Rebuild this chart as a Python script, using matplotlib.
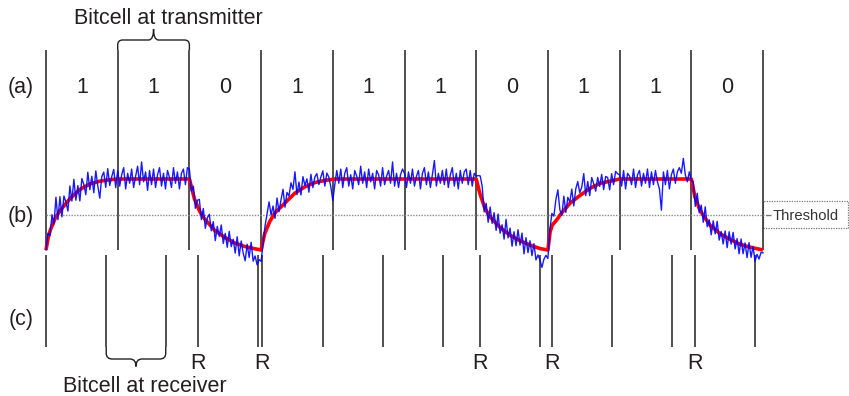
import numpy as np
import matplotlib
matplotlib.use("Agg")
import matplotlib.pyplot as plt
from matplotlib.path import Path
from matplotlib.patches import PathPatch, Rectangle

plt.rcParams["font.family"] = ["Liberation Sans", "DejaVu Sans"]

# ---- data -------------------------------------------------------------
bits = [1, 1, 0, 1, 1, 1, 0, 1, 1, 0]
tx_edges = list(range(len(bits) + 1))

# receiver clock ticks (in transmitter bitcells) and which ones are resets
rx_ticks = [0.0, 0.84, 1.67, 2.12, 2.96, 3.01, 3.86, 4.70, 5.54,
            6.05, 6.89, 7.06, 7.89, 8.73, 9.05, 9.89]
rx_reset = [False, False, False, True, False, True, False, False, False,
            True, False, True, False, False, True, False]

threshold = 0.49

# ideal (filtered) line voltage
red_t = [0.00, 0.03, 0.06, 0.13, 0.20, 0.34, 0.47, 0.61, 0.75, 0.89, 1.00,
         2.00, 2.07, 2.14, 2.21, 2.35, 2.49, 2.63, 2.77, 2.90, 3.00,
         3.05, 3.12, 3.19, 3.33, 3.47, 3.61, 3.75, 3.89, 4.03,
         6.00, 6.05, 6.12, 6.19, 6.33, 6.47, 6.61, 6.75, 6.89, 7.00,
         7.03, 7.06, 7.12, 7.19, 7.31, 7.45, 7.59, 7.73, 7.87, 8.00,
         9.00, 9.05, 9.12, 9.26, 9.40, 9.54, 9.68, 9.82, 10.00]
red_v = [0.00, 0.17, 0.28, 0.45, 0.56, 0.73, 0.85, 0.93, 0.97, 0.99, 1.00,
         1.00, 0.72, 0.55, 0.44, 0.28, 0.18, 0.10, 0.05, 0.02, 0.00,
         0.23, 0.40, 0.52, 0.66, 0.80, 0.89, 0.95, 0.98, 1.00,
         1.00, 0.80, 0.59, 0.47, 0.32, 0.21, 0.13, 0.07, 0.02, 0.00,
         0.25, 0.35, 0.42, 0.52, 0.66, 0.77, 0.87, 0.94, 0.97, 1.00,
         1.00, 0.75, 0.56, 0.35, 0.23, 0.15, 0.08, 0.04, 0.00]

# received (noisy) signal: deviation from the ideal curve, hundredths,
# sampled 36 times per bitcell
noise_per_cell = 36
blue_noise = [
    0, 8, -6, 16, -4, 28, -8, 20, -12, 14, 2, -14, 18, -6, 22, -10, 8, -16,
    14, 4, -12, 18, -8, 10, -14, 16, -6, -24, 6, 12, -10, 16, -8, 4, 14, -12,
    12, -10, 6, 16, -14, 8, -6, 14, -12, 4, 18, -8, 24, -4, 10, -16, 12, -8,
    14, -12, 6, 16, -10, 8, -14, 12, 2, -12, 16, -6, 10, -14, 8, 14, -8, 16,
    14, -6, 12, -10, 8, 16, -8, 12, -12, 6, 14, -6, 10, -14, 8, -4, 14, -10,
    6, -12, 12, -8, 4, -14, 10, -16, 6, -10, -20, 4, -14, 8, -18, -10, -22, -14,
    -16, -4, 10, 20, 30, 6, 14, -8, 18, -4, 10, 22, -6, 12, 4, 20, 8, 30,
    -4, 12, -8, 16, 2, 10, -10, 14, -6, 8, 12, -4, 6, 14, -8, 10, 4, -10,
    -30, -8, 12, -6, 14, -12, 8, 16, -10, 6, -14, 12, 4, -8, 18, -6, 10, -12,
    14, -4, 8, -14, 12, 6, -10, 16, -8, 4, 12, -6, 24, -10, 8, -12, 6, 14,
    8, -12, 10, -6, 14, -10, 4, 12, -14, 8, 16, -8, 10, -12, 6, 26, -10, 8,
    -6, 12, -8, 14, -12, 6, 16, -10, 8, -14, 12, -6, 10, 14, -8, 12, -10, 8,
    4, 16, 26, 20, -8, 10, -12, 14, -6, 12, -10, 16, -8, 6, -12, 18, -6, 10,
    -14, 8, -10, 14, -6, 12, -16, 8, -12, 6, -14, 4, -18, -10, -16, -26, -14, -8,
    -12, 6, 18, 10, 30, 40, 8, -4, 20, -6, 12, 2, 18, -8, 14, 22, 4, 10,
    27, -6, 12, -10, 14, 4, -8, 10, -4, 12, -10, 8, 6, -12, 10, -6, 12, 8,
    6, -10, 12, -14, 8, 4, -8, 14, -12, 6, 12, -10, 8, -6, 14, -12, 10, -8,
    12, -4, -14, -44, 10, -8, 12, -14, 6, 14, -6, 10, 16, 8, 29, 6, -4, 10,
    -2, 10, -12, 14, -6, 10, -10, 16, -8, 6, -12, 10, -6, 14, -10, 4, -12, 8,
    -14, 10, -6, 12, -10, 6, -14, 8, -12, 4, -16, 6, -14, 2, -18, -8, -14, -4,
    -4,
]

# ---- layout -----------------------------------------------------------
W, H = 849, 396
X0, CELL = 46.0, 71.7      # left edge and width of one bitcell (px)
BASE, SWING = 250.0, 71.0  # low level and signal swing (px)


def tx(px):
    return (px - X0) / CELL


def ty(py):
    return (BASE - py) / SWING


INK = "#231f20"
FS = 15.5

fig = plt.figure(figsize=(W / 100, H / 100), dpi=100)
ax = fig.add_axes([0, 0, 1, 1])
ax.set_xlim(tx(0), tx(W))
ax.set_ylim(ty(H), ty(0))
ax.axis("off")


def brace(x0, x1, y_base, h1, h2, r, up=True):
    """Curly brace between x0 and x1; heights in px, r = corner radius in px."""
    d = 1 if up else -1
    yb = y_base
    y1 = y_base + d * h1 / SWING
    y2 = y_base + d * h2 / SWING
    rx = r / CELL
    ry = r / SWING
    xm = 0.5 * (x0 + x1)
    verts = [(x0, yb), (x0, y1 - d * ry), (x0, y1), (x0 + rx, y1),
             (xm - rx, y1), (xm, y1), (xm, y2),
             (xm, y1), (xm + rx, y1),
             (x1 - rx, y1), (x1, y1), (x1, y1 - d * ry), (x1, yb)]
    codes = [Path.MOVETO, Path.LINETO, Path.CURVE3, Path.CURVE3,
             Path.LINETO, Path.CURVE3, Path.CURVE3,
             Path.CURVE3, Path.CURVE3,
             Path.LINETO, Path.CURVE3, Path.CURVE3, Path.LINETO]
    ax.add_patch(PathPatch(Path(verts, codes), fill=False, ec=INK, lw=1.0))


# row (a): transmitted bitcells
ax.vlines(tx_edges, ty(250), ty(50), colors=INK, lw=1.1)
for i, b in enumerate(bits):
    ax.text(i + 0.5, ty(93), str(b), ha="center", va="baseline",
            fontsize=FS, color=INK)
brace(tx_edges[1], tx_edges[2], ty(50), 10, 21, 5, up=True)
ax.text(tx(168), ty(23.5), "Bitcell at transmitter", ha="center",
        va="baseline", fontsize=FS, color=INK)

# row (b): line signal and threshold
ax.hlines(threshold, tx_edges[0], tx_edges[-1] + 0.05, colors="#8a8a8a",
          lw=1.0, linestyles=(0, (1, 1)))
ax.plot(red_t, red_v, color="#ff0000", lw=2.6, solid_capstyle="butt", zorder=3)
blue_t = np.arange(len(blue_noise)) / noise_per_cell
blue_v = np.interp(blue_t, red_t, red_v) + np.array(blue_noise) / 100.0
ax.plot(blue_t, blue_v, color="#0000ff", lw=1.0, alpha=0.9, zorder=4)

box_x0, box_x1 = tx(763), tx(848)
ax.add_patch(Rectangle((box_x0, ty(228)), box_x1 - box_x0, ty(201) - ty(228),
                       fill=False, ec="#777777", lw=0.9, ls=(0, (1, 1))))
ax.hlines(threshold, tx(766), tx(771), colors="#777777", lw=1.0)
ax.text(tx(773), ty(220.5), "Threshold", ha="left", va="baseline",
        fontsize=10.6, color="#333333")

# row (c): receiver clock
ax.vlines(rx_ticks, ty(347), ty(255), colors=INK, lw=1.1)
for t, r in zip(rx_ticks, rx_reset):
    if r:
        ax.text(t, ty(369), "R", ha="center", va="baseline",
                fontsize=FS, color=INK)
brace(rx_ticks[1], rx_ticks[2], ty(347), 12, 19.5, 6, up=False)
ax.text(tx(145), ty(391.5), "Bitcell at receiver", ha="center",
        va="baseline", fontsize=FS, color=INK)

# row labels
for lab, base in (("(a)", 93), ("(b)", 222.5), ("(c)", 325)):
    ax.text(tx(21), ty(base), lab, ha="center", va="baseline",
            fontsize=FS, color=INK)

fig.savefig("out.png", dpi=100)
